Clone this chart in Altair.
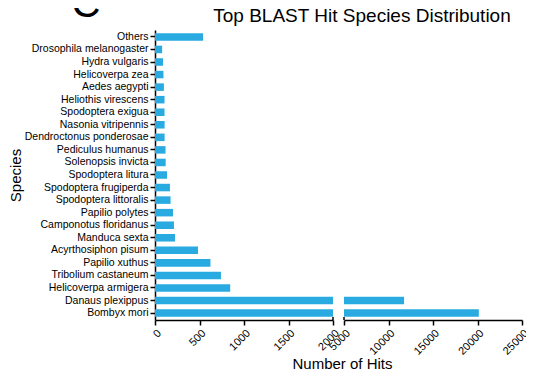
import altair as alt
import pandas as pd

species = ["Others", "Drosophila melanogaster", "Hydra vulgaris", "Helicoverpa zea",
           "Aedes aegypti", "Heliothis virescens", "Spodoptera exigua", "Nasonia vitripennis",
           "Dendroctonus ponderosae", "Pediculus humanus", "Solenopsis invicta",
           "Spodoptera litura", "Spodoptera frugiperda", "Spodoptera littoralis",
           "Papilio polytes", "Camponotus floridanus", "Manduca sexta", "Acyrthosiphon pisum",
           "Papilio xuthus", "Tribolium castaneum", "Helicoverpa armigera",
           "Danaus plexippus", "Bombyx mori"]
hits = [540, 80, 90, 95, 100, 107, 107, 108, 108, 118, 120, 135, 168, 175,
        202, 213, 225, 483, 623, 741, 845, 11750, 20150]

left_ticks = [0, 500, 1000, 1500, 2000]
right_ticks = [5000, 10000, 15000, 20000, 25000]
break_left = [2000]
break_right = [5000]
panel_label = ["C"]
chart_title = ["Top BLAST Hit Species Distribution"]

df = pd.DataFrame({"species": species, "hits": hits})

FONT = "Liberation Sans"
COLOR = "#29ABE2"
W, H = 178, 290

axis_common = dict(domainColor="black", domainWidth=1.5, tickColor="black", tickWidth=1.5,
                   tickSize=5, labelColor="black", labelFont=FONT, labelFontSize=11,
                   grid=False)

y_scale = alt.Scale(domain=species, paddingInner=0.4, paddingOuter=0.25)

left_bars = alt.Chart(df).mark_bar(color=COLOR).encode(
    x=alt.X("hits:Q", scale=alt.Scale(domain=[0, 2000], nice=False, clamp=True),
            axis=alt.Axis(values=left_ticks, format="d", labelAngle=-45, title="Number of Hits",
                          titleFont=FONT, titleFontSize=15, titleFontWeight="normal",
                          titleColor="black", titleX=187, titlePadding=4, **axis_common)),
    y=alt.Y("species:N", sort=species, scale=y_scale,
            axis=alt.Axis(title="Species", titleFont=FONT, titleFontSize=15,
                          titleFontWeight="normal", titleColor="black",
                          labelPadding=2, titlePadding=1,
                          **{**axis_common, "labelFontSize": 10.5})),
)

left_break = alt.Chart(pd.DataFrame({"b": break_left})).mark_rule(
    color="black", strokeWidth=1.5
).encode(x=alt.X("b:Q"), y=alt.value(H - 3), y2=alt.value(H))

label = alt.Chart(pd.DataFrame({"t": panel_label})).mark_text(
    font=FONT, fontSize=40, color="black", align="center", baseline="alphabetic"
).encode(x=alt.value(-69), y=alt.value(-13), text="t:N")

title = alt.Chart(pd.DataFrame({"t": chart_title})).mark_text(
    font=FONT, fontSize=19, color="black", align="center", baseline="alphabetic"
).encode(x=alt.value(207), y=alt.value(-8), text="t:N")

left = alt.layer(left_bars, left_break, label, title).properties(width=W, height=H)

right_bars = alt.Chart(df).transform_filter(alt.datum.hits > 5000).mark_bar(color=COLOR).encode(
    x=alt.X("hits:Q", scale=alt.Scale(domain=[5000, 25000], nice=False),
            axis=alt.Axis(values=right_ticks, format="d", labelAngle=-45, title=None, **axis_common)),
    x2=alt.datum(5000),
    y=alt.Y("species:N", sort=species, scale=y_scale, axis=None),
)

right_break = alt.Chart(pd.DataFrame({"b": break_right})).mark_rule(
    color="black", strokeWidth=1.5
).encode(x=alt.X("b:Q"), y=alt.value(H - 3), y2=alt.value(H))

right = alt.layer(right_bars, right_break).properties(width=W, height=H)

chart = alt.hconcat(left, right, spacing=11, bounds="flush").properties(
    padding={"top": -23, "left": 0, "right": -4, "bottom": 0}
).configure_view(stroke=None)

chart.save("out.html", embed_options={"renderer": "svg", "actions": False})
